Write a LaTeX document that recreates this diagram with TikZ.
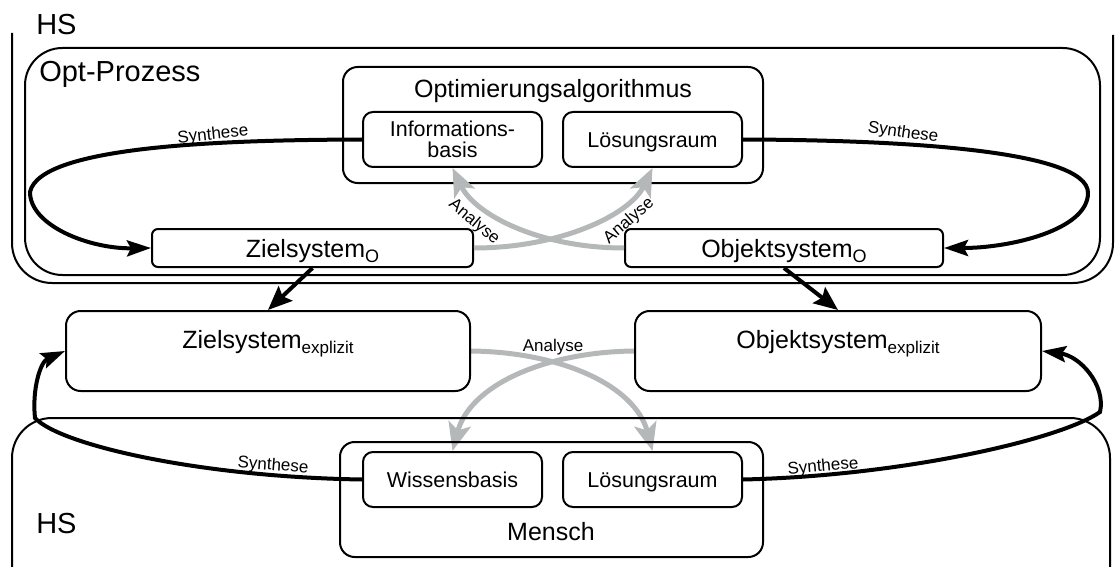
\documentclass[tikz,border=0pt]{standalone}
\usepackage{fontspec}
\setmainfont{Liberation Sans}
\usetikzlibrary{arrows.meta}
\pgfdeclarelayer{background}
\pgfsetlayers{background,main}
\definecolor{analysegray}{RGB}{181,184,184}
\newcommand\fsHS{\fontsize{21.75}{26}\selectfont}
\newcommand\fsMain{\fontsize{18.75}{22}\selectfont}
\newcommand\fsInner{\fontsize{16.1}{15.5}\selectfont}
\newcommand\fsEdge{\fontsize{12.75}{14}\selectfont}
\newcommand\subX[1]{\raisebox{-3.75pt}{\fontsize{12.75}{14}\selectfont #1}}
\newcommand\subO{\raisebox{-3.75pt}{\fontsize{13.5}{15}\selectfont O}}

\begin{document}
\begin{tikzpicture}[x=0.75pt, y=-0.75pt,
  frame/.style={line width=1.5pt},
  group/.style={draw, line width=1.5pt, inner sep=0pt},
  part/.style={draw, line width=1.5pt, rounded corners=7.5pt, inner sep=0pt,
    minimum width=134.25pt, minimum height=41.25pt, font=\fsInner, align=center},
  partone/.style={part, text height=12pt, text depth=0pt},
  sysO/.style={draw, line width=1.5pt, rounded corners=4.5pt, inner sep=0pt,
    minimum height=28.5pt, font=\fsMain, text height=13.5pt, text depth=0pt},
  sysX/.style={draw, line width=1.5pt, rounded corners=11pt, inner sep=0pt,
    minimum height=60pt, font=\fsMain, text height=13.5pt, text depth=18pt},
  synth/.style={line width=3pt, -{Stealth[length=18pt, width=12pt, inset=3pt]}},
  transfer/.style={line width=3pt, -{Stealth[length=18pt, width=15pt, inset=3pt]}},
  analyse/.style={analysegray, line width=3.75pt, -{Stealth[length=21pt, width=17pt, inset=5pt]}},
  edgelabel/.style={font=\fsEdge, inner sep=0pt},
  title/.style={font=\fsHS, inner sep=0pt, anchor=base west},
  heading/.style={font=\fsMain, inner sep=0pt, anchor=base}]

\useasboundingbox (0,0) rectangle (1115,567);

% outer HS frames, open towards the page edges
\draw[frame, rounded corners=30pt] (12,33) -- (12,283) -- (1113,283) -- (1113,35);
\draw[frame, rounded corners=30pt] (12,570) -- (12,418) -- (1110,418) -- (1110,570);
\node[title] (hstop) at (36,35) {HS};
\node[title] (hsbottom) at (36,533) {HS};

% optimisation process
\node[group, rounded corners=28pt, minimum width=806.25pt, minimum height=170.25pt]
  (optproc) at (562.5,161.5) {};
\node[title] (optlabel) at (39,82) {Opt-Prozess};

\node[group, rounded corners=11pt, minimum width=315pt, minimum height=87pt]
  (algo) at (553,125) {};
\node[heading] (algolabel) at (553,98) {Optimierungsalgorithmus};
\node[part] (info) at (452.5,139.5) {Informations-\\basis};
\node[partone] (lsgtop) at (652.5,139.5) {Lösungsraum};

\node[sysO, minimum width=240.75pt] (zielO) at (312.5,248) {Zielsystem\subO};
\node[sysO, minimum width=238.5pt] (objO) at (784,248) {Objektsystem\subO};

% explicit systems
\node[sysX, minimum width=303pt] (zielX) at (268,351) {Zielsystem\subX{explizit}};
\node[sysX, minimum width=304.5pt] (objX) at (838,351) {Objektsystem\subX{explizit}};

% human side
\node[group, rounded corners=11pt, minimum width=317.25pt, minimum height=86.25pt]
  (mensch) at (551.5,499.5) {};
\node[heading] (menschlabel) at (551,540) {Mensch};
\node[partone] (wissen) at (452.5,479.5) {Wissensbasis};
\node[partone] (lsgbot) at (652.5,479.5) {Lösungsraum};

% synthesis loops
\draw[synth] (info.west) .. controls (230,140) and (40,145) .. (30,192)
  .. controls (30,226) and (90,249) .. (zielO.west);
\draw[synth] (lsgtop.east) .. controls (900,140) and (1088,150) .. (1088,193)
  .. controls (1088,230) and (1010,248) .. (objO.east);
\draw[synth] (wissen.west) .. controls (200,477) and (60,445) .. (35,418)
  .. controls (32,390) and (40,362) .. (zielX.west);
\draw[synth] (lsgbot.east) .. controls (900,476) and (1060,440) .. (1100,412)
  .. controls (1106,385) and (1080,356) .. (objX.east);
\node[edgelabel, rotate=6] (syn1) at (213,135) {Synthese};
\node[edgelabel, rotate=-8] (syn2) at (903,133) {Synthese};
\node[edgelabel, rotate=-4] (syn3) at (273,466) {Synthese};
\node[edgelabel, rotate=5] (syn4) at (823,467) {Synthese};

% hand-over to the explicit systems
\draw[transfer] (zielO.south) -- (zielX.north);
\draw[transfer] (objO.south) -- (objX.north);

% analysis paths
\draw[analyse] (zielO.east) .. controls (560,248) and (630,215) .. (lsgtop.south);
\draw[analyse] (objO.west) .. controls (540,248) and (475,215) .. (info.south);
\node[edgelabel, rotate=-40] (ana1) at (474,222) {Analyse};
\node[edgelabel, rotate=41] (ana2) at (629,221) {Analyse};
\begin{pgfonlayer}{background}
\draw[analyse] (zielX.east) .. controls (560,352) and (635,385) .. (lsgbot.north);
\draw[analyse] (objX.west) .. controls (545,352) and (470,385) .. (wissen.north);
\end{pgfonlayer}
\node[edgelabel] (ana3) at (553,347) {Analyse};

\end{tikzpicture}
\end{document}
